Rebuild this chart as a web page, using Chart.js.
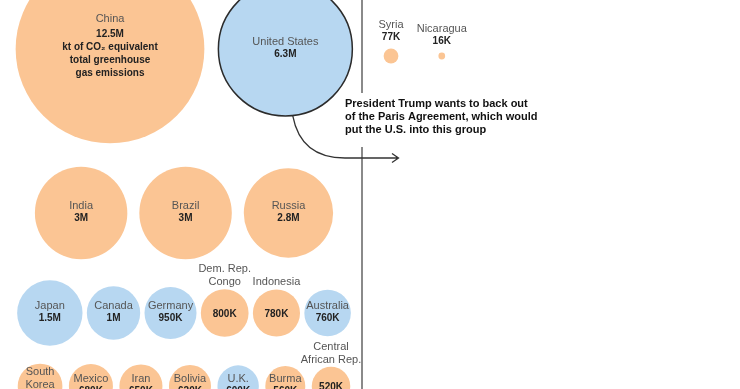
<!DOCTYPE html>
<html>
<head>
<meta charset="utf-8">
<script src="https://cdn.jsdelivr.net/npm/chart.js@4.4.1/dist/chart.umd.min.js"></script>
<style>
  html, body { margin: 0; padding: 0; background: #fff; }
  #wrap { width: 740px; height: 389px; }
</style>
</head>
<body>
<div id="wrap"><canvas id="myChart" width="740" height="389"></canvas></div>
<script>
// Greenhouse gas emissions, thousand kt of CO2 equivalent
var countries = ['China', 'United States', 'India', 'Brazil', 'Russia', 'Japan', 'Canada', 'Germany',
  'Dem. Rep.\nCongo', 'Indonesia', 'Australia', 'South\nKorea', 'Mexico', 'Iran', 'Bolivia', 'U.K.',
  'Burma', 'Central\nAfrican Rep.', 'Syria', 'Nicaragua'];
var emissions = [12500, 6300, 3000, 3000, 2800, 1500, 1000, 950, 800, 780, 760, 700, 680, 650, 620, 600, 560, 520, 77, 16];
// A = blue group, B = orange group
var groups = ['B', 'A', 'B', 'B', 'B', 'A', 'A', 'A', 'B', 'B', 'A', 'B', 'B', 'B', 'B', 'A', 'B', 'B', 'B', 'B'];
var chinaNote = ['kt of CO\u2082 equivalent', 'total greenhouse', 'gas emissions'];
var annotation = ['President Trump wants to back out', 'of the Paris Agreement, which would', 'put the U.S. into this group'];

// names whose label sits above the circle
var labelAbove = ['Dem. Rep.\nCongo', 'Indonesia', 'Central\nAfrican Rep.', 'Syria', 'Nicaragua'];

// row packing: how many circles per row, row centre line, spacing
var rowLayout = [
  { count: 2, cy: 49, gap: 14 },
  { count: 3, cy: 213, gap: 12 },
  { count: 6, cy: 313, gap: 4.3 },
  { count: 7, cy: 386, gap: 6.5 },
  { count: 2, cy: 56, gap: 40, left: 383.6 }
];
var rowCentre = 184;
var radiusScale = 0.844; // px per sqrt(thousand kt)

var colors = { A: '#b7d7f1', B: '#fbc594' };

function radius(v) { return radiusScale * Math.sqrt(v); }

function fmt(v) {
  if (v >= 1000) return (Math.round(v / 100) / 10) + 'M';
  return v + 'K';
}

// build bubble points from the data with simple row packing
var points = [];
var idx = 0;
rowLayout.forEach(function(row) {
  var rs = [];
  for (var k = 0; k < row.count; k++) rs.push(radius(emissions[idx + k]));
  var total = rs.reduce(function(a, b) { return a + 2 * b; }, 0) + row.gap * (row.count - 1);
  var x = row.left !== undefined ? row.left : rowCentre - total / 2;
  for (var k = 0; k < row.count; k++) {
    x += rs[k];
    points.push({ x: x, y: row.cy, r: rs[k] });
    x += rs[k] + row.gap;
  }
  idx += row.count;
});

var bubbleLabels = {
  id: 'bubbleLabels',
  afterDatasetsDraw: function(chart) {
    var ctx = chart.ctx;
    var meta = chart.getDatasetMeta(0);
    ctx.save();
    ctx.textAlign = 'center';
    ctx.textBaseline = 'middle';
    meta.data.forEach(function(el, i) {
      var r = points[i].r;
      var nameLines = countries[i].split('\n');
      var val = fmt(emissions[i]);
      var top = el.y - r;
      var nameFont = '11px "Liberation Sans", Arial, sans-serif';
      var valFont = 'bold 10px "Liberation Sans", Arial, sans-serif';

      if (labelAbove.indexOf(countries[i]) >= 0) {
        var base = top - 7;
        if (r < 10) {
          ctx.font = valFont; ctx.fillStyle = '#222';
          ctx.fillText(val, el.x, top - 11);
          base = top - 24;
        } else {
          ctx.font = valFont; ctx.fillStyle = '#222';
          ctx.fillText(val, el.x, el.y + 1);
        }
        ctx.font = nameFont; ctx.fillStyle = '#555';
        for (var k = nameLines.length - 1; k >= 0; k--) {
          ctx.fillText(nameLines[k], el.x, base - (nameLines.length - 1 - k) * 13);
        }
        return;
      }

      var lines = [];
      nameLines.forEach(function(t) { lines.push({ t: t, f: nameFont, c: '#555' }); });
      lines.push({ t: val, f: valFont, c: '#222' });
      if (i === 0) chinaNote.forEach(function(t) { lines.push({ t: t, f: valFont, c: '#222' }); });
      var y0 = el.y - (lines.length - 1) * 13 / 2 - 1;
      if (i === 0) y0 -= 3;
      lines.forEach(function(l, k) {
        ctx.font = l.f; ctx.fillStyle = l.c;
        ctx.fillText(l.t, el.x, y0 + k * 13 + (k > 0 && i === 0 ? 2 : 0));
      });
    });
    ctx.restore();
  }
};

var decorations = {
  id: 'decorations',
  afterDraw: function(chart) {
    var ctx = chart.ctx;
    var us = chart.getDatasetMeta(0).data[1];
    ctx.save();
    // divider
    ctx.strokeStyle = '#8a8a8a';
    ctx.lineWidth = 2;
    ctx.beginPath();
    ctx.moveTo(362, 0); ctx.lineTo(362, 93);
    ctx.moveTo(362, 147); ctx.lineTo(362, 389);
    ctx.stroke();

    // note
    ctx.fillStyle = '#111';
    ctx.font = 'bold 11px "Liberation Sans", Arial, sans-serif';
    ctx.textAlign = 'left';
    ctx.textBaseline = 'middle';
    annotation.forEach(function(t, k) { ctx.fillText(t, 345, 104 + k * 13); });

    // arrow from the U.S. circle
    var a = 0.11, r = points[1].r;
    var sx = us.x + r * Math.sin(a), sy = us.y + r * Math.cos(a);
    ctx.strokeStyle = '#333';
    ctx.lineWidth = 1.3;
    ctx.beginPath();
    ctx.moveTo(sx, sy);
    ctx.quadraticCurveTo(sx + 8, 158, 345, 158);
    ctx.lineTo(398, 158);
    ctx.moveTo(392, 153.5); ctx.lineTo(398.5, 158); ctx.lineTo(392, 162.5);
    ctx.stroke();
    ctx.restore();
  }
};

var ctx = document.getElementById('myChart').getContext('2d');
var chart = new Chart(ctx, {
  type: 'bubble',
  data: {
    datasets: [{
      data: points,
      backgroundColor: groups.map(function(g) { return colors[g]; }),
      borderColor: countries.map(function(c, i) { return i === 1 ? '#2b2b2b' : 'rgba(0,0,0,0)'; }),
      borderWidth: countries.map(function(c, i) { return i === 1 ? 1.5 : 0; }),
      clip: false
    }]
  },
  options: {
    responsive: false,
    animation: false,
    layout: { padding: 0, autoPadding: false },
    scales: {
      x: { type: 'linear', min: 0, max: 740, display: false },
      y: { type: 'linear', min: 0, max: 389, reverse: true, display: false }
    },
    plugins: { legend: { display: false }, tooltip: { enabled: false } },
    events: []
  },
  plugins: [bubbleLabels, decorations]
});
</script>
</body>
</html>
